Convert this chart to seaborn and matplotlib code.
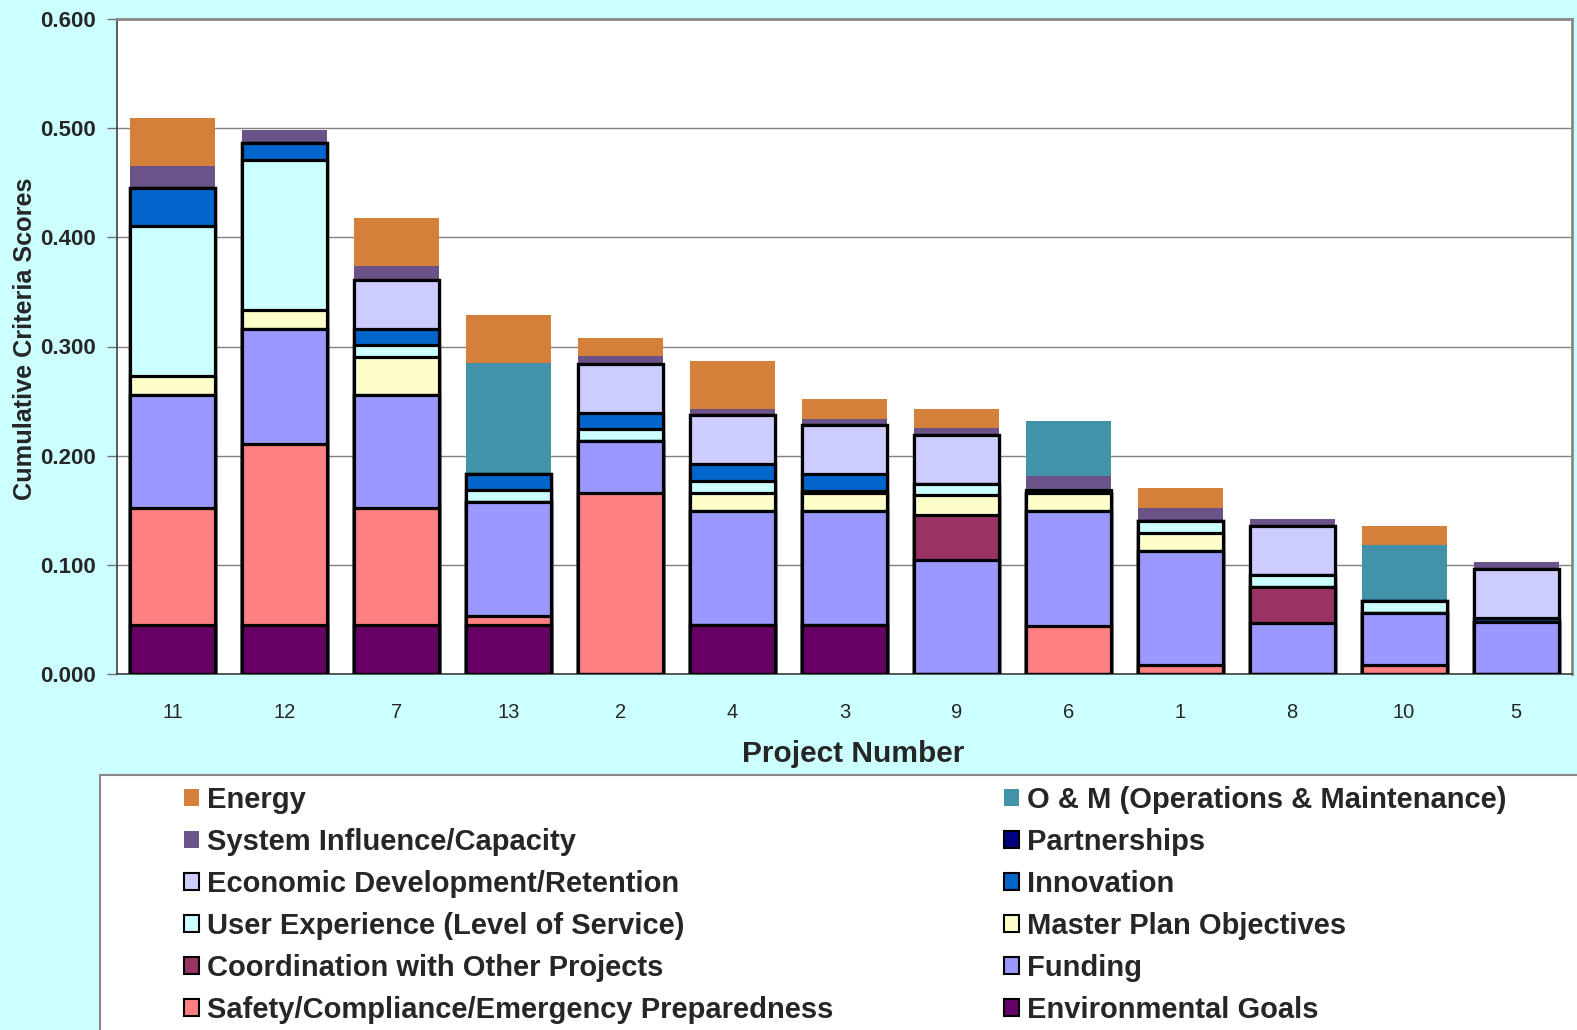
import matplotlib
matplotlib.use("Agg")
import matplotlib.pyplot as plt
from matplotlib.patches import Patch, Rectangle
import numpy as np
import pandas as pd
import seaborn as sns

# ---------------- data (bottom -> top of each stack) ----------------
projects = ["11", "12", "7", "13", "2", "4", "3", "9", "6", "1", "8", "10", "5"]

environmental = [0.045, 0.045, 0.045, 0.045, 0.000, 0.045, 0.045, 0.000, 0.000, 0.000, 0.000, 0.000, 0.000]
safety        = [0.107, 0.166, 0.107, 0.0085, 0.166, 0.000, 0.000, 0.000, 0.044, 0.008, 0.000, 0.008, 0.000]
funding       = [0.104, 0.105, 0.104, 0.104, 0.047, 0.104, 0.104, 0.104, 0.105, 0.105, 0.047, 0.048, 0.048]
coordination  = [0.000, 0.000, 0.000, 0.000, 0.000, 0.000, 0.000, 0.042, 0.000, 0.000, 0.033, 0.000, 0.000]
master_plan   = [0.017, 0.017, 0.034, 0.000, 0.000, 0.017, 0.017, 0.018, 0.017, 0.0165, 0.000, 0.000, 0.000]
user_exp      = [0.137, 0.138, 0.011, 0.011, 0.011, 0.011, 0.002, 0.010, 0.000, 0.011, 0.011, 0.011, 0.000]
innovation    = [0.035, 0.015, 0.015, 0.015, 0.015, 0.015, 0.015, 0.000, 0.000, 0.000, 0.000, 0.000, 0.003]
economic      = [0.000, 0.000, 0.045, 0.000, 0.045, 0.045, 0.045, 0.045, 0.000, 0.000, 0.045, 0.000, 0.045]
partnerships  = [0.000, 0.000, 0.000, 0.000, 0.000, 0.000, 0.000, 0.000, 0.0025, 0.000, 0.000, 0.000, 0.000]
system_infl   = [0.020, 0.012, 0.013, 0.000, 0.007, 0.006, 0.006, 0.006, 0.013, 0.012, 0.006, 0.000, 0.007]
om            = [0.000, 0.000, 0.000, 0.101, 0.000, 0.000, 0.000, 0.000, 0.050, 0.000, 0.000, 0.051, 0.000]
energy        = [0.044, 0.000, 0.044, 0.044, 0.017, 0.044, 0.018, 0.018, 0.000, 0.018, 0.000, 0.018, 0.000]

series_names = [
    "Environmental Goals",
    "Safety/Compliance/Emergency Preparedness",
    "Funding",
    "Coordination with Other Projects",
    "Master Plan Objectives",
    "User Experience (Level of Service)",
    "Innovation",
    "Economic Development/Retention",
    "Partnerships",
    "System Influence/Capacity",
    "O & M (Operations & Maintenance)",
    "Energy",
]
series_values = [environmental, safety, funding, coordination, master_plan, user_exp,
                 innovation, economic, partnerships, system_infl, om, energy]
series_colors = ["#660066", "#FF8080", "#9999FF", "#993366", "#FFFFCC", "#CCFFFF",
                 "#0066CC", "#CCCCFF", "#000080", "#6B5289", "#4292AA", "#D4803A"]
series_edged = [True, True, True, True, True, True, True, True, True, False, False, False]

# ---------------- figure ----------------
sns.set_style("white")
plt.rcParams["font.family"] = ["Liberation Sans", "DejaVu Sans"]

W, H = 1577, 1030
fig = plt.figure(figsize=(W / 100, H / 100), dpi=100)
fig.patch.set_facecolor("#CCFFFF")

ax = fig.add_axes([117 / W, 1 - 674 / H, (1572 - 117) / W, (674 - 19) / H])
ax.set_facecolor("white")

# cumulative stacks, drawn from the top series down so lower ones overlay
cum = np.cumsum(np.array(series_values), axis=0)
for i in range(len(series_names) - 1, -1, -1):
    df = pd.DataFrame({"project": projects, "value": cum[i]})
    if series_edged[i]:
        kw = dict(edgecolor="black", linewidth=2.3)
    else:
        kw = dict(edgecolor="none", linewidth=0)
    sns.barplot(data=df, x="project", y="value", order=projects, color=series_colors[i],
                saturation=1, width=0.76, errorbar=None, ax=ax, zorder=3, **kw)

ax.set_xlim(-0.5, len(projects) - 0.5)
ax.set_ylim(0, 0.6)
ax.set_yticks(np.arange(0, 0.601, 0.1))
ax.set_yticklabels([f"{v:.3f}" for v in np.arange(0, 0.601, 0.1)],
                   fontsize=16, fontweight="bold")
ax.yaxis.grid(True, color="#808080", linewidth=1.0, zorder=0)
ax.set_axisbelow(True)

ax.set_xticks(np.arange(len(projects)))
ax.set_xticklabels(projects, fontsize=14.5)
ax.set_xticks(np.arange(-0.5, len(projects), 1.0), minor=True)
ax.tick_params(axis="x", which="major", length=0, pad=21)
ax.tick_params(axis="x", which="minor", length=7, width=1, color="#707070", direction="out")
ax.tick_params(axis="y", which="major", length=7, width=1, color="#707070",
               direction="out", pad=8, left=True)

ax.set_xlabel("Project Number", fontsize=21.5, fontweight="bold", labelpad=13)
ax.xaxis.label.set_x(0.506)
ax.set_ylabel("Cumulative Criteria Scores", fontsize=18.2, fontweight="bold")
ax.yaxis.set_label_coords(-(117 - 37) / (1572 - 117), 0.512)

for side in ["left", "bottom"]:
    ax.spines[side].set_color("#404040")
    ax.spines[side].set_linewidth(1.2)
for side in ["top", "right"]:
    ax.spines[side].set_color("#888888")
    ax.spines[side].set_linewidth(2.0)

# ---------------- legend ----------------
fig.patches.append(Rectangle((100 / W, -0.01), 1.0, (1030 - 775) / H + 0.01,
                             transform=fig.transFigure, facecolor="white",
                             edgecolor="#888888", linewidth=1.5, zorder=0))

def handle(i):
    if series_edged[i]:
        return Patch(facecolor=series_colors[i], edgecolor="black", linewidth=1.5)
    return Patch(facecolor=series_colors[i], edgecolor="none")

col1 = [11, 9, 7, 5, 3, 1]
col2 = [10, 8, 6, 4, 2, 0]
for col, xpos in [(col1, 184 / W), (col2, 1004 / W)]:
    leg = fig.legend([handle(i) for i in col], [series_names[i] for i in col],
                     loc="upper left", bbox_to_anchor=(xpos, 1 - 786 / H),
                     frameon=False, borderpad=0, borderaxespad=0,
                     handlelength=0.5, handleheight=0.5, handletextpad=0.3,
                     labelspacing=0.48, prop={"size": 21, "weight": "bold"})

fig.savefig("out.png", dpi=100, facecolor=fig.get_facecolor())
